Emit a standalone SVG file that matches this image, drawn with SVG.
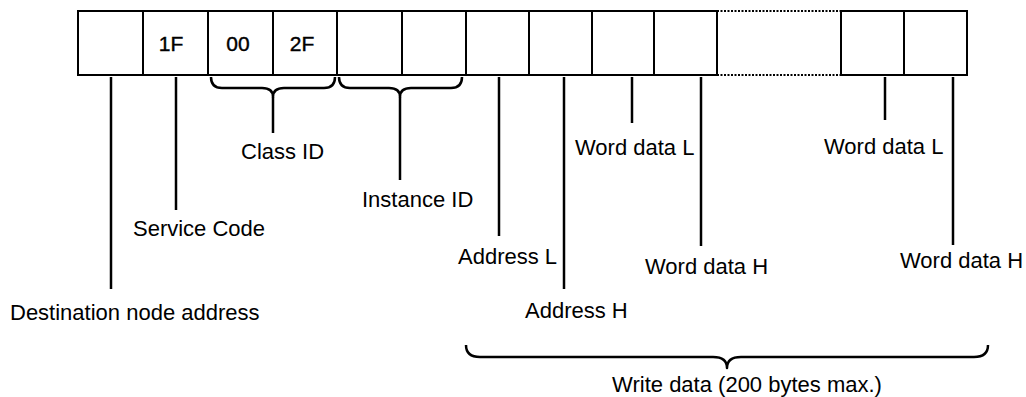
<svg xmlns="http://www.w3.org/2000/svg" width="1026" height="397" viewBox="0 0 1026 397">
<style>
.box{fill:#fff;stroke:#000;stroke-width:2}
.dot{fill:none;stroke:#000;stroke-width:2;stroke-dasharray:2 1.5}
.ln{fill:none;stroke:#000;stroke-width:2.5}
.br{fill:none;stroke:#000;stroke-width:2.5;stroke-linejoin:round}
text{font-family:"Liberation Sans",Arial,sans-serif;font-size:22px;fill:#000}
.bt{font-size:21px;text-anchor:middle;stroke:#000;stroke-width:0.4}
</style>
<rect width="1026" height="397" fill="#fff"/>
<g id="frame">
<g id="b1"><rect class="box" x="78" y="11" width="65" height="64"/></g>
<g id="b2"><rect class="box" x="143" y="11" width="65" height="64"/><text class="bt" x="171" y="51">1F</text></g>
<g id="b3"><rect class="box" x="208" y="11" width="65" height="64"/><text class="bt" x="238" y="51">00</text></g>
<g id="b4"><rect class="box" x="273" y="11" width="64" height="64"/><text class="bt" x="302" y="51">2F</text></g>
<g id="b5"><rect class="box" x="337" y="11" width="65" height="64"/></g>
<g id="b6"><rect class="box" x="402" y="11" width="64" height="64"/></g>
<g id="b7"><rect class="box" x="466" y="11" width="63" height="64"/></g>
<g id="b8"><rect class="box" x="529" y="11" width="63" height="64"/></g>
<g id="b9"><rect class="box" x="592" y="11" width="62" height="64"/></g>
<g id="b10"><rect class="box" x="654" y="11" width="63" height="64"/></g>
<g id="b11"><path class="dot" d="M717,11 H841 M717,75 H841"/></g>
<g id="b12"><rect class="box" x="841" y="11" width="63" height="64"/></g>
<g id="b13"><rect class="box" x="904" y="11" width="63" height="64"/></g>
</g>
<g id="connectors">
<path class="ln" d="M111,77 V289"/>
<path class="ln" d="M176,77 V210"/>
<path class="br" d="M211,77 Q211,88 222,88 L262,88 Q273,88 273,97 Q273,88 284,88 L324,88 Q335,88 335,77"/>
<path class="ln" d="M273,97 V133"/>
<path class="br" d="M339,77 Q339,88 350,88 L389,88 Q400,88 400,97 Q400,88 411,88 L451,88 Q462,88 462,77"/>
<path class="ln" d="M400,97 V180"/>
<path class="ln" d="M499,77 V236"/>
<path class="ln" d="M564,77 V289"/>
<path class="ln" d="M632,77 V123"/>
<path class="ln" d="M701,77 V246"/>
<path class="ln" d="M885,77 V120"/>
<path class="ln" d="M953,77 V245"/>
<path class="br" d="M466,345 Q466,357 480,357 L713,357 Q727,357 727,368 Q727,357 741,357 L974,357 Q988,357 988,345"/>
</g>
<g id="labels">
<text x="10" y="320">Destination node address</text>
<text x="133" y="236">Service Code</text>
<text x="241" y="159">Class ID</text>
<text x="362" y="207">Instance ID</text>
<text x="458" y="264">Address L</text>
<text x="525" y="318">Address H</text>
<text x="575" y="155">Word data L</text>
<text x="645" y="274">Word data H</text>
<text x="824" y="154">Word data L</text>
<text x="900" y="268">Word data H</text>
<text x="747" y="392" text-anchor="middle">Write data (200 bytes max.)</text>
</g>
</svg>
